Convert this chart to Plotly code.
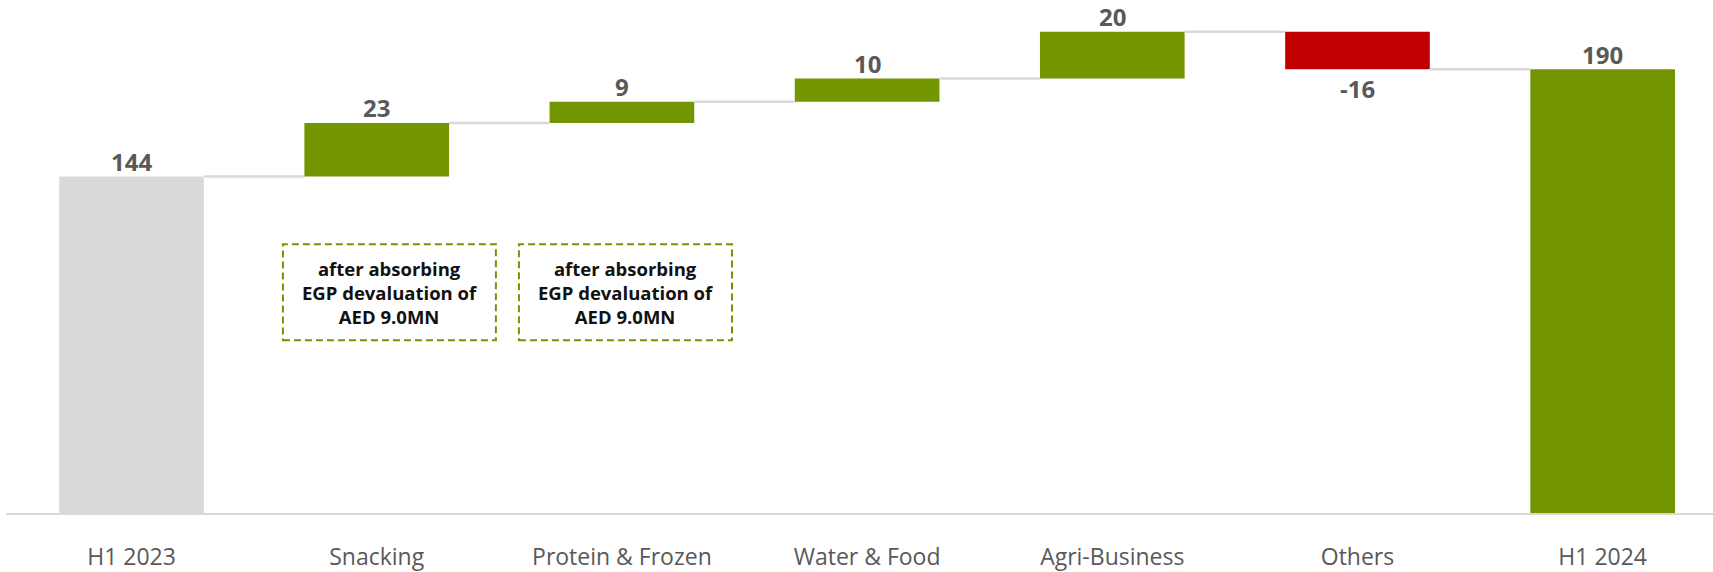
import plotly.graph_objects as go

categories = ["H1 2023", "Snacking", "Protein & Frozen", "Water & Food", "Agri-Business", "Others", "H1 2024"]
values = [144, 23, 9, 10, 20, -16, 190]
kinds = ["total", "delta", "delta", "delta", "delta", "delta", "total"]
labels = ["144", "23", "9", "10", "20", "-16", "190"]
note_text = "after absorbing<br>EGP devaluation of<br>AED 9.0MN"
note_categories = ["Snacking", "Protein & Frozen"]

GREEN = "#739600"
RED = "#C00000"
GREY = "#D9D9D9"
LABEL = "#595959"
FONT = "Open Sans, Segoe UI, sans-serif"

# compute bases from data
bases, heights, levels, colors = [], [], [], []
running = 0
for i, (v, k) in enumerate(zip(values, kinds)):
    if k == "total":
        bases.append(0)
        heights.append(v)
        running = v
        colors.append(GREY if i == 0 else GREEN)
    else:
        bases.append(running)
        heights.append(v)
        running += v
        colors.append(GREEN if v >= 0 else RED)
    levels.append(running)

BAR_W = 0.59

fig = go.Figure()
fig.add_trace(go.Bar(
    x=categories, y=heights, base=bases, width=BAR_W,
    marker=dict(color=colors, line=dict(width=0)),
    cliponaxis=False, hoverinfo="skip",
))

annotations = []
# value labels, anchored at the bar's end
for cat, b, h, lab in zip(categories, bases, heights, labels):
    end = b + h
    annotations.append(dict(xref="x", yref="y", x=cat, y=end, text=lab,
                            showarrow=False, yanchor="middle",
                            yshift=15 if h >= 0 else -19,
                            font=dict(family=FONT, size=24, color=LABEL, weight="bold")))

shapes = []
for i in range(len(categories) - 1):
    shapes.append(dict(type="line", xref="x", yref="y",
                       x0=i + BAR_W / 2, x1=i + 1 - BAR_W / 2,
                       y0=levels[i], y1=levels[i],
                       line=dict(color=GREY, width=2.5)))

# annotation boxes (position/style settings)
box_specs = [(-0.3825, 0.486), (-0.42, 0.449)]
box_y = (73.9, 115.0)
for cat, (dx0, dx1) in zip(note_categories, box_specs):
    ci = categories.index(cat)
    x0, x1 = ci + dx0, ci + dx1
    shapes.append(dict(type="rect", xref="x", yref="y", x0=x0, x1=x1,
                       y0=box_y[0], y1=box_y[1],
                       line=dict(color=GREEN, width=2, dash="7px,4px"),
                       fillcolor="rgba(0,0,0,0)"))
    annotations.append(dict(xref="x", yref="y", x=(x0 + x1) / 2, y=(box_y[0] + box_y[1]) / 2,
                            text=note_text, showarrow=False, align="center",
                            font=dict(family=FONT, size=18.5, color="#111111", weight="bold")))

fig.update_layout(
    width=1713, height=572,
    margin=dict(l=6, r=0, t=0, b=49),
    paper_bgcolor="white", plot_bgcolor="white",
    showlegend=False, bargap=0.41, hovermode=False,
    shapes=shapes, annotations=annotations,
    xaxis=dict(range=[-0.512, 6.45], showgrid=False, zeroline=False,
               showline=True, linecolor=GREY, linewidth=2,
               ticks="", ticklabelstandoff=22, fixedrange=True,
               tickfont=dict(family=FONT, size=23, color=LABEL)),
    yaxis=dict(range=[0, 219.6], visible=False, showgrid=False, zeroline=False, fixedrange=True),
)

fig.write_html("out.html", config={"displayModeBar": False},
               post_script="document.body.style.margin='0px';")
